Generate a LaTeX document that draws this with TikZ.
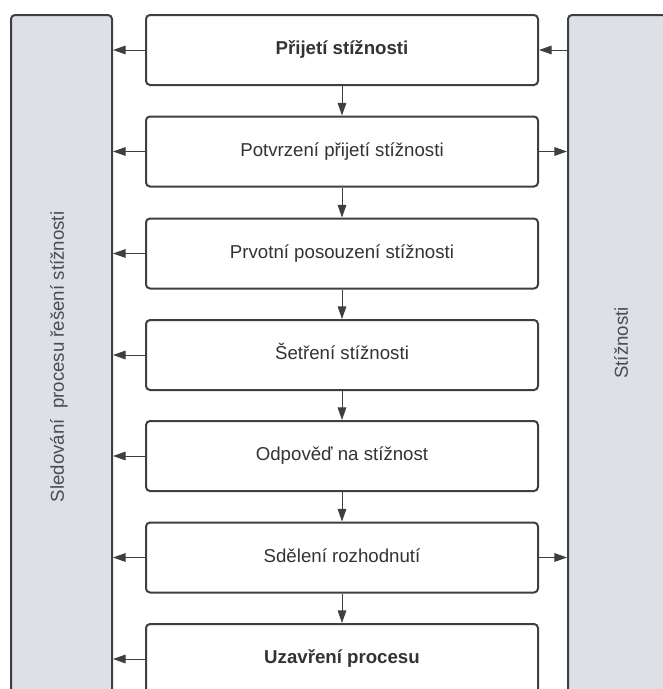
\documentclass[tikz,border=0pt]{standalone}
\usepackage{fontspec}
\setmainfont{Liberation Sans}
\usetikzlibrary{arrows.meta,positioning}
\definecolor{linegray}{HTML}{3D3F44}
\definecolor{lanegray}{HTML}{DDE0E5}
\definecolor{textgray}{HTML}{333333}
\definecolor{lanetext}{HTML}{4A4C50}

\begin{document}
\begin{tikzpicture}[x=0.75pt,y=-0.75pt,
    krok/.style={draw=linegray, line width=1.5pt, rounded corners=3pt, fill=white,
      minimum width=294pt, minimum height=52.5pt, text=textgray, text height=10pt, text depth=3pt,
      font=\fontsize{14pt}{16pt}\selectfont},
    lane/.style={draw=linegray, line width=1.5pt, rounded corners=3pt, fill=lanegray},
    lanetxt/.style={rotate=90, text=lanetext, font=\fontsize{14pt}{16pt}\selectfont},
    arr/.style={draw=linegray, line width=0.75pt, -{Triangle[length=9.5pt,width=6.5pt]}}]
  \useasboundingbox (0,0) rectangle (663,689);
  \clip (0,0) rectangle (663,689);

  % lanes on both sides
  \node[lane, minimum width=75.75pt, minimum height=558.75pt] (sled) at (61.5,387.5) {};
  \node[lane, minimum width=114pt, minimum height=558.75pt] (stiz) at (644,387.5) {};
  \node[lanetxt] (sledtxt) at (59,357) {Sledování\ \ procesu řešení stížnosti};
  \node[lanetxt] (stiztxt) at (621,343) {Stížnosti};

  % process steps
  \node[krok, font=\fontsize{14pt}{16pt}\selectfont\bfseries] (b1) at (342,50) {Přijetí stížnosti};
  \node[krok] (b2) at (342,151.5) {Potvrzení přijetí stížnosti};
  \node[krok] (b3) at (342,253.5) {Prvotní posouzení stížnosti};
  \node[krok] (b4) at (342,355) {Šetření stížnosti};
  \node[krok] (b5) at (342,456) {Odpověď na stížnost};
  \node[krok] (b6) at (342,557.5) {Sdělení rozhodnutí};
  \node[krok, font=\fontsize{14pt}{16pt}\selectfont\bfseries] (b7) at (342,659) {Uzavření procesu};

  % flow downwards and to the left lane
  \foreach \a/\b in {b1/b2,b2/b3,b3/b4,b4/b5,b5/b6,b6/b7}
    \draw[arr] (\a.south) -- (\b.north);
  \foreach \a in {b1,b2,b3,b4,b5,b6,b7}
    \draw[arr] (\a.west) -- (sled.east |- \a.west);

  % right lane
  \draw[arr] (stiz.west |- b1.east) -- (b1.east);
  \draw[arr] (b2.east) -- (stiz.west |- b2.east);
  \draw[arr] (b6.east) -- (stiz.west |- b6.east);
\end{tikzpicture}
\end{document}
